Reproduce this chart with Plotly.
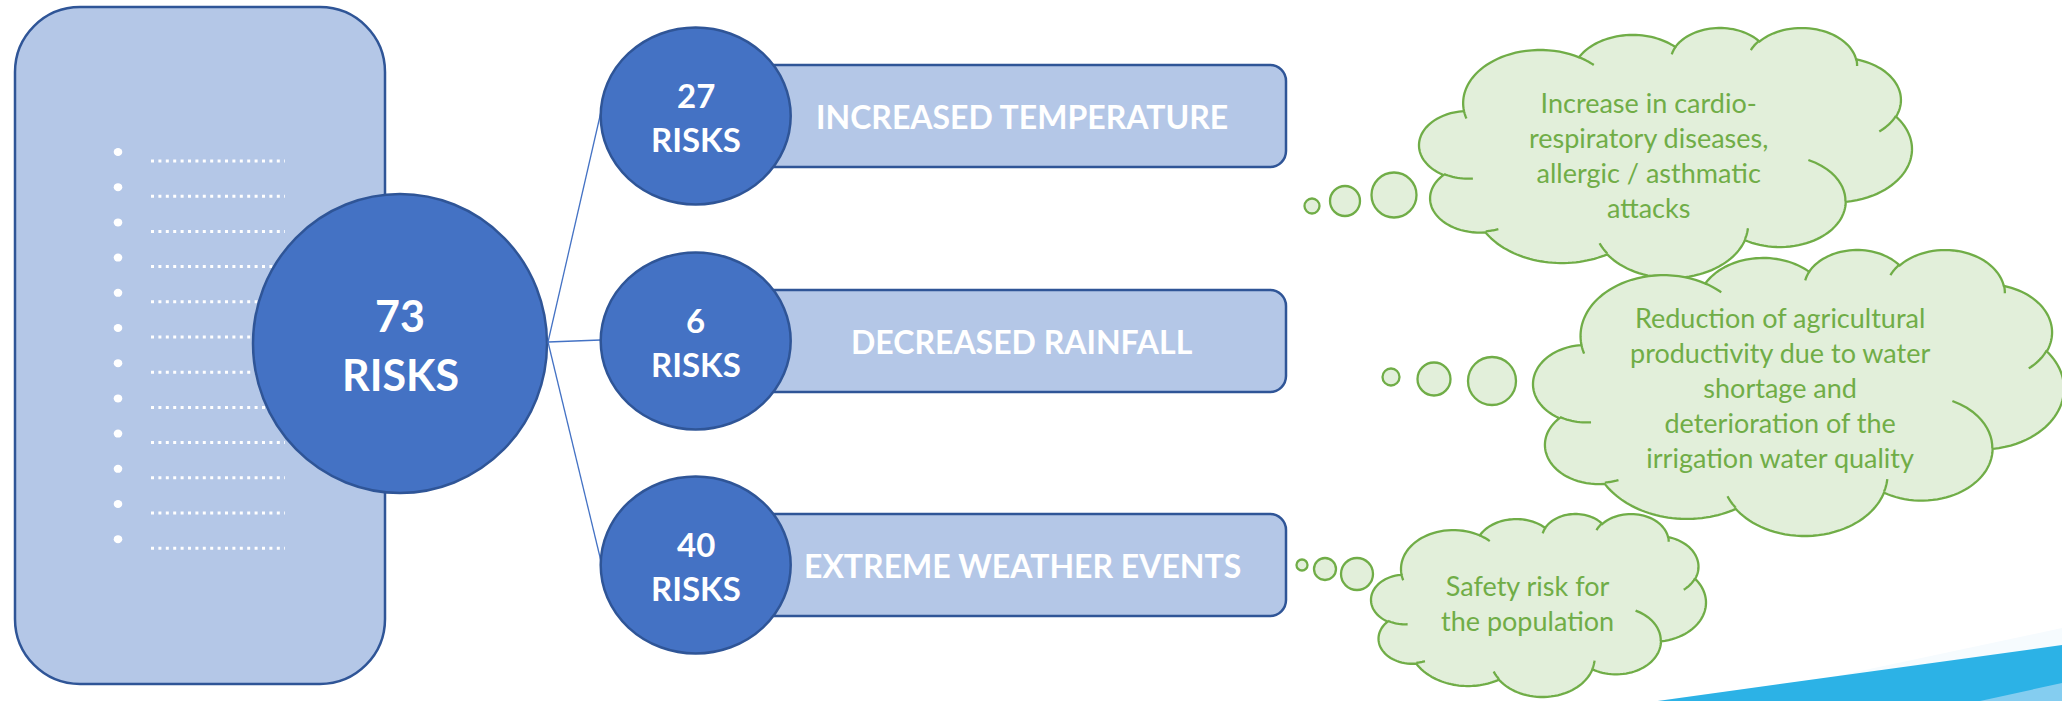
import math
import plotly.graph_objects as go

# ---------------- data ----------------
total_risks = 73
risk_unit = "RISKS"
risk_counts = [27, 6, 40]
risk_categories = ["INCREASED TEMPERATURE", "DECREASED RAINFALL", "EXTREME WEATHER EVENTS"]
impact_lines = [
    ["Increase in cardio-", "respiratory diseases,", "allergic / asthmatic", "attacks"],
    ["Reduction of agricultural", "productivity due to water", "shortage and",
     "deterioration of the", "irrigation water quality"],
    ["Safety risk for", "the population"],
]
placeholder_items = ["…", "…", "…", "…", "…", "…", "…", "…", "…", "…", "…", "…"]

# ---------------- styles / layout constants ----------------
W, H = 2062, 701
LINE_BLUE = "#2F5597"
MID_BLUE = "#4472C4"
LIGHT_BLUE = "#B4C7E7"
GREEN = "#70AD47"
GREEN_FILL = "#E2EFDA"
FONT = "Lato"

PANEL = (15, 7, 385, 684, 65)
BULLET_X, BULLET_Y0, BULLET_DY = 118, 152, 35.2
DOTS_X0, DOTS_X1, DOTS_DY = 151, 285, 9
BIG_C, BIG_R = (400, 343.5), (147, 149.5)
HUB = (548, 342)
SMALL_CX, SMALL_R = 695.7, (95, 88.5)
ROW_CY = [116, 341, 565]
LINK_END_Y = [113, 340, 560]
RECT_X0, RECT_X1, RECT_HH, RECT_RAD = 700, 1286, 51, 16
RECT_TEXT_X = 1022
CLOUD_BOX = [(1419, 28, 1912, 278), (1533, 250, 2064, 536), (1371, 514, 1706, 697)]
CLOUD_TEXT_POS = [(1648, 155), (1780, 387), (1527, 603)]
BUBBLES = [
    [(1312, 206, 7.5), (1345, 201, 15), (1394, 195, 22.5)],
    [(1391, 377, 8.5), (1434, 379, 16.5), (1492, 381, 24)],
    [(1302, 565, 5.5), (1325, 569, 11), (1357, 574, 16)],
]

# DrawingML preset "cloud" geometry (path units 43200 x 43200)
CLOUD_START = (3900, 14370)
CLOUD_ARCS = [
    (6753, 9190, -11429249, 7426832),
    (5333, 7267, -8646143, 5396714),
    (4365, 5945, -8748475, 5983381),
    (4857, 6595, -7859164, 7034504),
    (5333, 7273, -4722533, 6541615),
    (6775, 9220, -2776035, 7816140),
    (5785, 7867, 37501, 6842000),
    (6752, 9215, 1347096, 6910353),
    (7720, 10543, 3974558, 4542661),
    (4360, 5918, -16496525, 8804134),
    (4345, 5945, -14809710, 9151131),
]
CLOUD_INNER = [
    ((4693, 26177), (4345, 5945, 5204520, 1585770)),
    ((6928, 34899), (4360, 5918, 4416628, 686848)),
    ((16478, 39090), (6752, 9215, 8257449, 844866)),
    ((28827, 34751), (6752, 9215, 387196, 959901)),
    ((34129, 22954), (5785, 7867, -4217541, 4255042)),
    ((41798, 15354), (5333, 7273, 1819082, 1665090)),
    ((38324, 5426), (4857, 6595, -824660, 891534)),
    ((29078, 3952), (4857, 6595, -8950887, 1091722)),
    ((22141, 4720), (4365, 5945, -9809656, 1061181)),
    ((14000, 5192), (6753, 9190, -4002417, 739161)),
    ((4127, 15789), (6753, 9190, 9459261, 711490)),
]


def arc_pts(p, wr, hr, st, sw, n=40):
    a0 = math.radians(st / 60000.0)
    da = math.radians(sw / 60000.0)

    def par(a):
        return math.atan2(math.sin(a) / hr, math.cos(a) / wr)

    t0 = par(a0)
    cx = p[0] - wr * math.cos(t0)
    cy = p[1] - hr * math.sin(t0)
    out = []
    for i in range(1, n + 1):
        t = par(a0 + da * i / n)
        out.append((cx + wr * math.cos(t), cy + hr * math.sin(t)))
    return out


outline_raw = [CLOUD_START]
for arc in CLOUD_ARCS:
    outline_raw += arc_pts(outline_raw[-1], *arc)
inner_raw = [[s] + arc_pts(s, *a, n=12) for s, a in CLOUD_INNER]
rx0 = min(p[0] for p in outline_raw); rx1 = max(p[0] for p in outline_raw)
ry0 = min(p[1] for p in outline_raw); ry1 = max(p[1] for p in outline_raw)


def to_box(pts, box):
    x0, y0, x1, y1 = box
    return [(x0 + (px - rx0) / (rx1 - rx0) * (x1 - x0),
             y0 + (py - ry0) / (ry1 - ry0) * (y1 - y0)) for px, py in pts]


def poly_path(pts, close=True):
    s = "M " + " L ".join(f"{x:.2f},{y:.2f}" for x, y in pts)
    return s + (" Z" if close else "")


def rounded_rect(x0, y0, x1, y1, r):
    k = 0.5523 * r
    return (f"M {x0 + r},{y0} L {x1 - r},{y0} C {x1 - r + k},{y0} {x1},{y0 + r - k} {x1},{y0 + r} "
            f"L {x1},{y1 - r} C {x1},{y1 - r + k} {x1 - r + k},{y1} {x1 - r},{y1} "
            f"L {x0 + r},{y1} C {x0 + r - k},{y1} {x0},{y1 - r + k} {x0},{y1 - r} "
            f"L {x0},{y0 + r} C {x0},{y0 + r - k} {x0 + r - k},{y0} {x0 + r},{y0} Z")


shapes = []
annotations = []

# bottom-right swoosh
shapes.append(dict(type="path", path="M 1720,701 L 2062,628 L 2062,646 L 1657,701 Z",
                   fillcolor="#F6FBFE", line=dict(width=0)))
shapes.append(dict(type="path", path="M 1600,709 L 2062,645 L 2062,710 Z",
                   fillcolor="#2CB2E6", line=dict(width=0)))
shapes.append(dict(type="path", path="M 1930,712 L 2062,683 L 2062,712 Z",
                   fillcolor="#84CDF0", line=dict(width=0)))

# left panel
px0, py0, px1, py1, prad = PANEL
shapes.append(dict(type="path", path=rounded_rect(px0, py0, px1, py1, prad),
                   fillcolor=LIGHT_BLUE, line=dict(color=LINE_BLUE, width=2.5)))
for i, _item in enumerate(placeholder_items):
    yb = BULLET_Y0 + i * BULLET_DY
    shapes.append(dict(type="circle", x0=BULLET_X - 4.3, x1=BULLET_X + 4.3, y0=yb - 4, y1=yb + 4,
                       fillcolor="white", line=dict(width=0)))
    shapes.append(dict(type="line", x0=DOTS_X0, x1=DOTS_X1, y0=yb + DOTS_DY, y1=yb + DOTS_DY,
                       line=dict(color="white", width=3, dash="3px,4.4px")))

# central circle
shapes.append(dict(type="circle", x0=BIG_C[0] - BIG_R[0], x1=BIG_C[0] + BIG_R[0],
                   y0=BIG_C[1] - BIG_R[1], y1=BIG_C[1] + BIG_R[1],
                   fillcolor=MID_BLUE, line=dict(color=LINE_BLUE, width=2.5)))
annotations.append(dict(x=BIG_C[0], y=BIG_C[1] - 28, text=str(total_risks), showarrow=False,
                        font=dict(family=FONT, size=43, color="white", weight="bold")))
annotations.append(dict(x=BIG_C[0], y=BIG_C[1] + 31, text=risk_unit, showarrow=False,
                        font=dict(family=FONT, size=43, color="white", weight="bold")))

# connectors, category bars and circles
for i, (cnt, cat) in enumerate(zip(risk_counts, risk_categories)):
    cy = ROW_CY[i]
    shapes.append(dict(type="line", x0=HUB[0], y0=HUB[1], x1=SMALL_CX - SMALL_R[0], y1=LINK_END_Y[i],
                       line=dict(color=MID_BLUE, width=1.3)))
    shapes.append(dict(type="path", path=rounded_rect(RECT_X0, cy - RECT_HH, RECT_X1, cy + RECT_HH, RECT_RAD),
                       fillcolor=LIGHT_BLUE, line=dict(color=LINE_BLUE, width=2.5)))
    shapes.append(dict(type="circle", x0=SMALL_CX - SMALL_R[0], x1=SMALL_CX + SMALL_R[0],
                       y0=cy - SMALL_R[1], y1=cy + SMALL_R[1],
                       fillcolor=MID_BLUE, line=dict(color=LINE_BLUE, width=2.5)))
    annotations.append(dict(x=SMALL_CX, y=cy - 21, text=str(cnt), showarrow=False,
                            font=dict(family=FONT, size=33, color="white", weight="bold")))
    annotations.append(dict(x=SMALL_CX, y=cy + 23, text=risk_unit, showarrow=False,
                            font=dict(family=FONT, size=33, color="white", weight="bold")))
    annotations.append(dict(x=RECT_TEXT_X, y=cy, text=cat, showarrow=False,
                            font=dict(family=FONT, size=32, color="white", weight="bold")))

# thought clouds
for i, lines in enumerate(impact_lines):
    for bx, by, br in BUBBLES[i]:
        shapes.append(dict(type="circle", x0=bx - br, x1=bx + br, y0=by - br, y1=by + br,
                           fillcolor=GREEN_FILL, line=dict(color=GREEN, width=2.3)))
    box = CLOUD_BOX[i]
    shapes.append(dict(type="path", path=poly_path(to_box(outline_raw, box)),
                       fillcolor=GREEN_FILL, line=dict(color=GREEN, width=2.3)))
    inner = " ".join(poly_path(to_box(seg, box), close=False) for seg in inner_raw)
    shapes.append(dict(type="path", path=inner, line=dict(color=GREEN, width=2.3)))
    tx, ty = CLOUD_TEXT_POS[i]
    annotations.append(dict(x=tx, y=ty, text="<br>".join(lines), showarrow=False, align="center",
                            font=dict(family=FONT, size=27, color=GREEN)))

for s in shapes:
    s.setdefault("xref", "x")
    s.setdefault("yref", "y")
for a in annotations:
    a.update(xref="x", yref="y")

fig = go.Figure()
fig.update_layout(
    width=W, height=H, margin=dict(l=0, r=0, t=0, b=0),
    paper_bgcolor="white", plot_bgcolor="white",
    xaxis=dict(range=[0, W], visible=False, fixedrange=True),
    yaxis=dict(range=[H, 0], visible=False, fixedrange=True),
    shapes=shapes, annotations=annotations, showlegend=False,
)
fig.write_html("out.html", config={"displayModeBar": False},
               post_script="document.body.style.margin='0';document.body.style.overflow='hidden';")
